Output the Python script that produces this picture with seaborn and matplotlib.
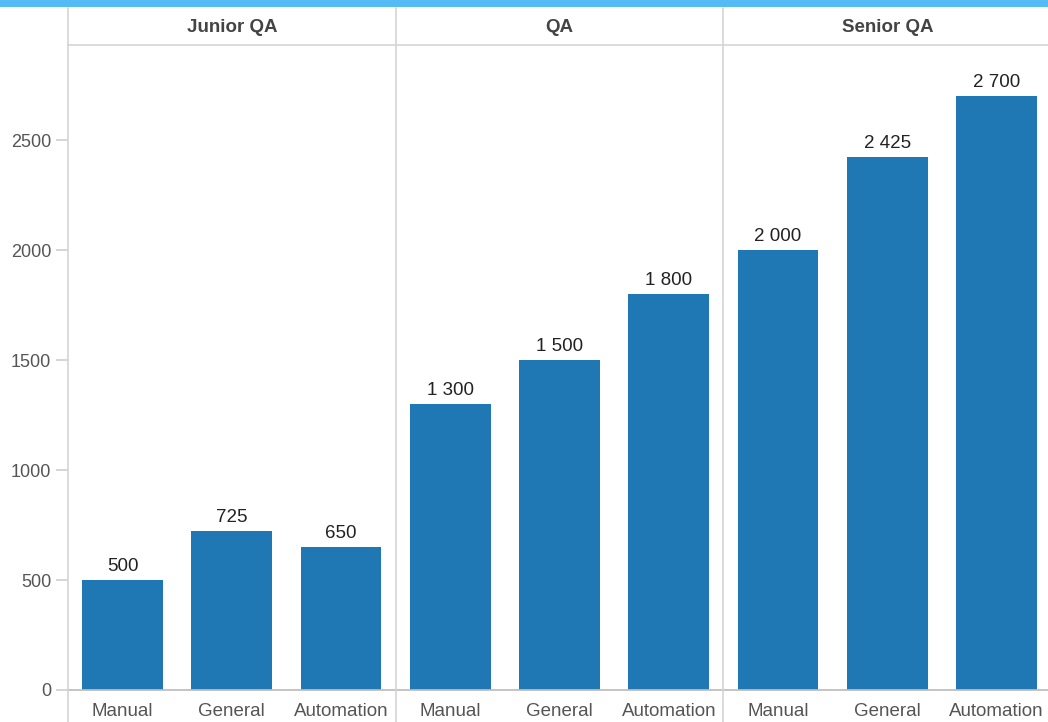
import pandas as pd
import seaborn as sns
import matplotlib.pyplot as plt
from matplotlib.lines import Line2D
from matplotlib.patches import Rectangle

# Salary data by QA level and skill
levels = ["Junior QA", "QA", "Senior QA"]
skills = ["Manual", "General", "Automation"]
junior_qa = [500, 725, 650]
middle_qa = [1300, 1500, 1800]
senior_qa = [2000, 2425, 2700]

rows = []
for level, values in zip(levels, [junior_qa, middle_qa, senior_qa]):
    for skill, v in zip(skills, values):
        rows.append({"Level": level, "Skill": skill, "Salary": v})
df = pd.DataFrame(rows)

sns.set_theme(style="white")
plt.rcParams["font.family"] = ["Liberation Sans", "DejaVu Sans"]

W, H = 1048, 722
fig = plt.figure(figsize=(W / 100, H / 100), dpi=100)

bar_color = "#1f77b4"
line_color = "#d4d4d4"
left, base, top = 68, 690, 45
panel_w = 327.7

def fx(px):
    return px / W

def fy(py):
    return 1 - py / H

for i, level in enumerate(levels):
    ax = fig.add_axes([fx(left + i * panel_w), fy(base), fx(panel_w), fy(top) - fy(base)])
    sub = df[df["Level"] == level]
    sns.barplot(data=sub, x="Skill", y="Salary", color=bar_color, width=0.74,
                saturation=1, linewidth=0, ax=ax, order=skills)
    ax.set_xlim(-0.5, 2.5)
    ax.set_ylim(0, 2932)
    ax.set_xlabel("")
    ax.set_ylabel("")
    for s in ["top", "right", "left"]:
        ax.spines[s].set_visible(False)
    ax.spines["bottom"].set_color("#bdbdbd")
    ax.tick_params(axis="x", which="major", length=0, pad=9, labelsize=13.5, labelcolor="#555555")
    ax.set_xticks([0.5, 1.5], minor=True)
    ax.tick_params(axis="x", which="minor", length=5, color="#d0d0d0")
    for bar, v in zip(ax.patches, sub["Salary"]):
        label = f"{v:,}".replace(",", " ")
        ax.text(bar.get_x() + bar.get_width() / 2, v + 22, label,
                ha="center", va="bottom", fontsize=13.5, color="#222222")
    if i == 0:
        ax.set_yticks([0, 500, 1000, 1500, 2000, 2500])
        ax.tick_params(axis="y", length=9, color="#d0d0d0", labelsize=13,
                       labelcolor="#555555", pad=3, left=True)
    else:
        ax.tick_params(axis="y", left=False, labelleft=False)
    # header text
    fig.text(fx(left + (i + 0.5) * panel_w), fy(27), level, ha="center", va="center",
             fontsize=13.5, fontweight="bold", color="#444444")

# Frame lines: vertical dividers and header separator
for k in range(3):
    x = left + k * panel_w
    fig.add_artist(Line2D([fx(x), fx(x)], [fy(8), 0], color=line_color, lw=1.2))
fig.add_artist(Line2D([fx(left), 1], [fy(top), fy(top)], color=line_color, lw=1.2))

# Blue strip along top
fig.add_artist(Rectangle((0, fy(7)), 1, 1 - fy(7), transform=fig.transFigure,
                         color="#55bbf5", lw=0))

fig.savefig("out.png", dpi=100)
